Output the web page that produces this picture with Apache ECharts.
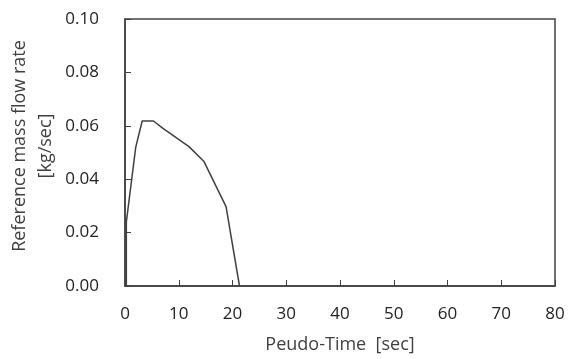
<!DOCTYPE html>
<html><head><meta charset="utf-8">
<script src="https://cdn.jsdelivr.net/npm/echarts@6/dist/echarts.min.js"></script>
<style>html,body{margin:0;padding:0;background:#fff}#c{width:577px;height:359px}</style>
</head><body><div id="c"></div>
<script>
const timeSec = [0.25, 0.25, 2.0, 3.2, 5.3, 7.0, 11.9, 14.7, 18.8, 21.3];
const massFlow = [0.0, 0.024, 0.052, 0.0618, 0.0618, 0.0591, 0.0522, 0.0466, 0.0297, 0.0];
const xTitle = 'Peudo-Time  [sec]';
const yTitle = 'Reference mass flow rate\n[kg/sec]';

const chart = echarts.init(document.getElementById('c'), null, {renderer: 'canvas'});
const axisColor = '#404040';
const font = 'Open Sans';
chart.setOption({
  animation: false,
  grid: {left: 125, right: 22, top: 19, bottom: 73, outerBoundsMode: 'none', containLabel: false,
         show: true, borderColor: axisColor, borderWidth: 1.5, backgroundColor: 'transparent'},
  graphic: [{
    type: 'text', x: 33, y: 146, rotation: Math.PI / 2,
    style: {text: yTitle, fontFamily: font, fontSize: 18, fill: '#404040', align: 'center', verticalAlign: 'middle', lineHeight: 26}
  }],
  xAxis: {
    type: 'value', min: 0, max: 80, interval: 10,
    name: xTitle, nameLocation: 'middle', nameGap: 50,
    nameTextStyle: {fontFamily: font, fontSize: 18, color: '#404040'},
    axisLine: {show: true, lineStyle: {color: axisColor, width: 1.5}},
    axisTick: {show: true, inside: true, length: 6, lineStyle: {color: axisColor, width: 1}},
    axisLabel: {fontFamily: font, fontSize: 17, color: '#222', margin: 20},
    splitLine: {show: false}
  },
  yAxis: {
    type: 'value', min: 0, max: 0.1, interval: 0.02,
    axisLine: {show: true, lineStyle: {color: axisColor, width: 1.5}},
    axisTick: {show: true, inside: true, length: 6, lineStyle: {color: axisColor, width: 1}},
    axisLabel: {fontFamily: font, fontSize: 17, color: '#222', margin: 26, formatter: v => v.toFixed(2)},
    splitLine: {show: false}
  },
  series: [{
    type: 'line',
    data: timeSec.map((t, i) => [t, massFlow[i]]),
    showSymbol: false, symbol: 'none',
    lineStyle: {color: '#404040', width: 1.5}
  }]
});
</script></body></html>
